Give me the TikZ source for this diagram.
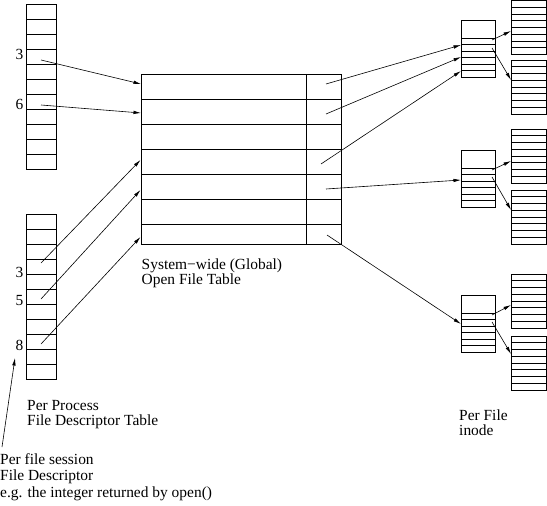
\documentclass[tikz,border=0pt]{standalone}
\usepackage{fontspec}
\setmainfont{Liberation Serif}
\usetikzlibrary{arrows.meta}
\begin{document}
\begin{tikzpicture}[x=1bp,y=-1bp,
  tbl/.style={draw,line width=0.8bp},
  arr/.style={-{Latex[length=7.5bp,width=3.5bp]},line width=0.6bp},
  lbl/.style={anchor=base west,inner sep=0pt,font=\fontsize{15.5}{16}\selectfont},
  num/.style={anchor=base east,inner sep=0pt,font=\fontsize{15.5}{16}\selectfont}]
\useasboundingbox (0,0) rectangle (547,506);
% per-process fd tables
\foreach \t in {4,214}{
  \draw[tbl] (26,\t) rectangle (56,\t+165);
  \foreach \i in {1,...,10} \draw[tbl] (26,\t+15*\i) -- (56,\t+15*\i);
}
% global table
\draw[tbl] (141,74) rectangle (341,244);
\foreach \y in {99,124,149,174,199,224} \draw[tbl] (141,\y) -- (341,\y);
\draw[tbl] (306,74) -- (306,244);
% inodes
\foreach \t in {20,150,295}{
  \draw[tbl] (461,\t) rectangle (495,\t+57);
  \foreach \i in {0,...,5} \draw[tbl] (461,\t+18+6.5*\i) -- (495,\t+18+6.5*\i);
}
% data blocks
\foreach \t in {0.5,60,129,190,274,336}{
  \draw[tbl] (511,\t) rectangle (546.5,\t+54);
  \foreach \i in {1,...,7} \draw[tbl] (511,\t+6.75*\i) -- (546.5,\t+6.75*\i);
}
% labels
\node[num] (n3a) at (23.5,60) {3};
\node[num] (n6a) at (23.5,110) {6};
\node[num] (n3b) at (23.5,277) {3};
\node[num] (n5b) at (23.5,305) {5};
\node[num] (n8b) at (23.5,350) {8};
\node[lbl] (sys) at (141.5,269) {System−wide (Global)};
\node[lbl] (oft) at (141.5,284) {Open File Table};
\node[lbl] (pp) at (27,410) {Per Process};
\node[lbl] (fdt) at (27,425) {File Descriptor Table};
\node[lbl] (pfs) at (0,464) {Per file session};
\node[lbl] (fdl) at (0,480) {File Descriptor};
\node[lbl] (eg) at (0,497) {e.g. the integer returned by open()};
\node[lbl] (pfl) at (459,420) {Per File};
\node[lbl] (ino) at (459,435) {inode};
% coordinates
\coordinate (t3) at (41,60);   \coordinate (g0) at (141,84);
\coordinate (t6) at (41,105);  \coordinate (g1) at (141,113);
\coordinate (b3) at (41,263);  \coordinate (g3) at (140.5,160);
\coordinate (b5) at (41,299);  \coordinate (g4) at (140.5,190);
\coordinate (b8) at (41,344);  \coordinate (g6) at (140.5,237);
\coordinate (o0) at (326,84);  \coordinate (ia) at (461,45);
\coordinate (o1) at (326,114); \coordinate (ib) at (461,57);
\coordinate (o3) at (321,164); \coordinate (ic) at (461,71);
\coordinate (o4) at (326,189); \coordinate (id) at (461,180);
\coordinate (o6) at (327,235); \coordinate (ie) at (461,324);
\coordinate (s1a) at (492,40);  \coordinate (d1) at (511,31);
\coordinate (s1b) at (492,48);  \coordinate (d2) at (511,80);
\coordinate (s2a) at (492,170); \coordinate (d3) at (511,161);
\coordinate (s2b) at (492,177); \coordinate (d4) at (511,210);
\coordinate (s3a) at (492,315); \coordinate (d5) at (511,305);
\coordinate (s3b) at (492,322); \coordinate (d6) at (511,354);
\coordinate (sess) at (2,447);  \coordinate (sesst) at (15,358);
% connectors
\foreach \a/\b in {t3/g0,t6/g1,b3/g3,b5/g4,b8/g6,o0/ia,o1/ib,o3/ic,o4/id,o6/ie,
  s1a/d1,s1b/d2,s2a/d3,s2b/d4,s3a/d5,s3b/d6,sess/sesst}
  \draw[arr] (\a) -- (\b);
\end{tikzpicture}
\end{document}
